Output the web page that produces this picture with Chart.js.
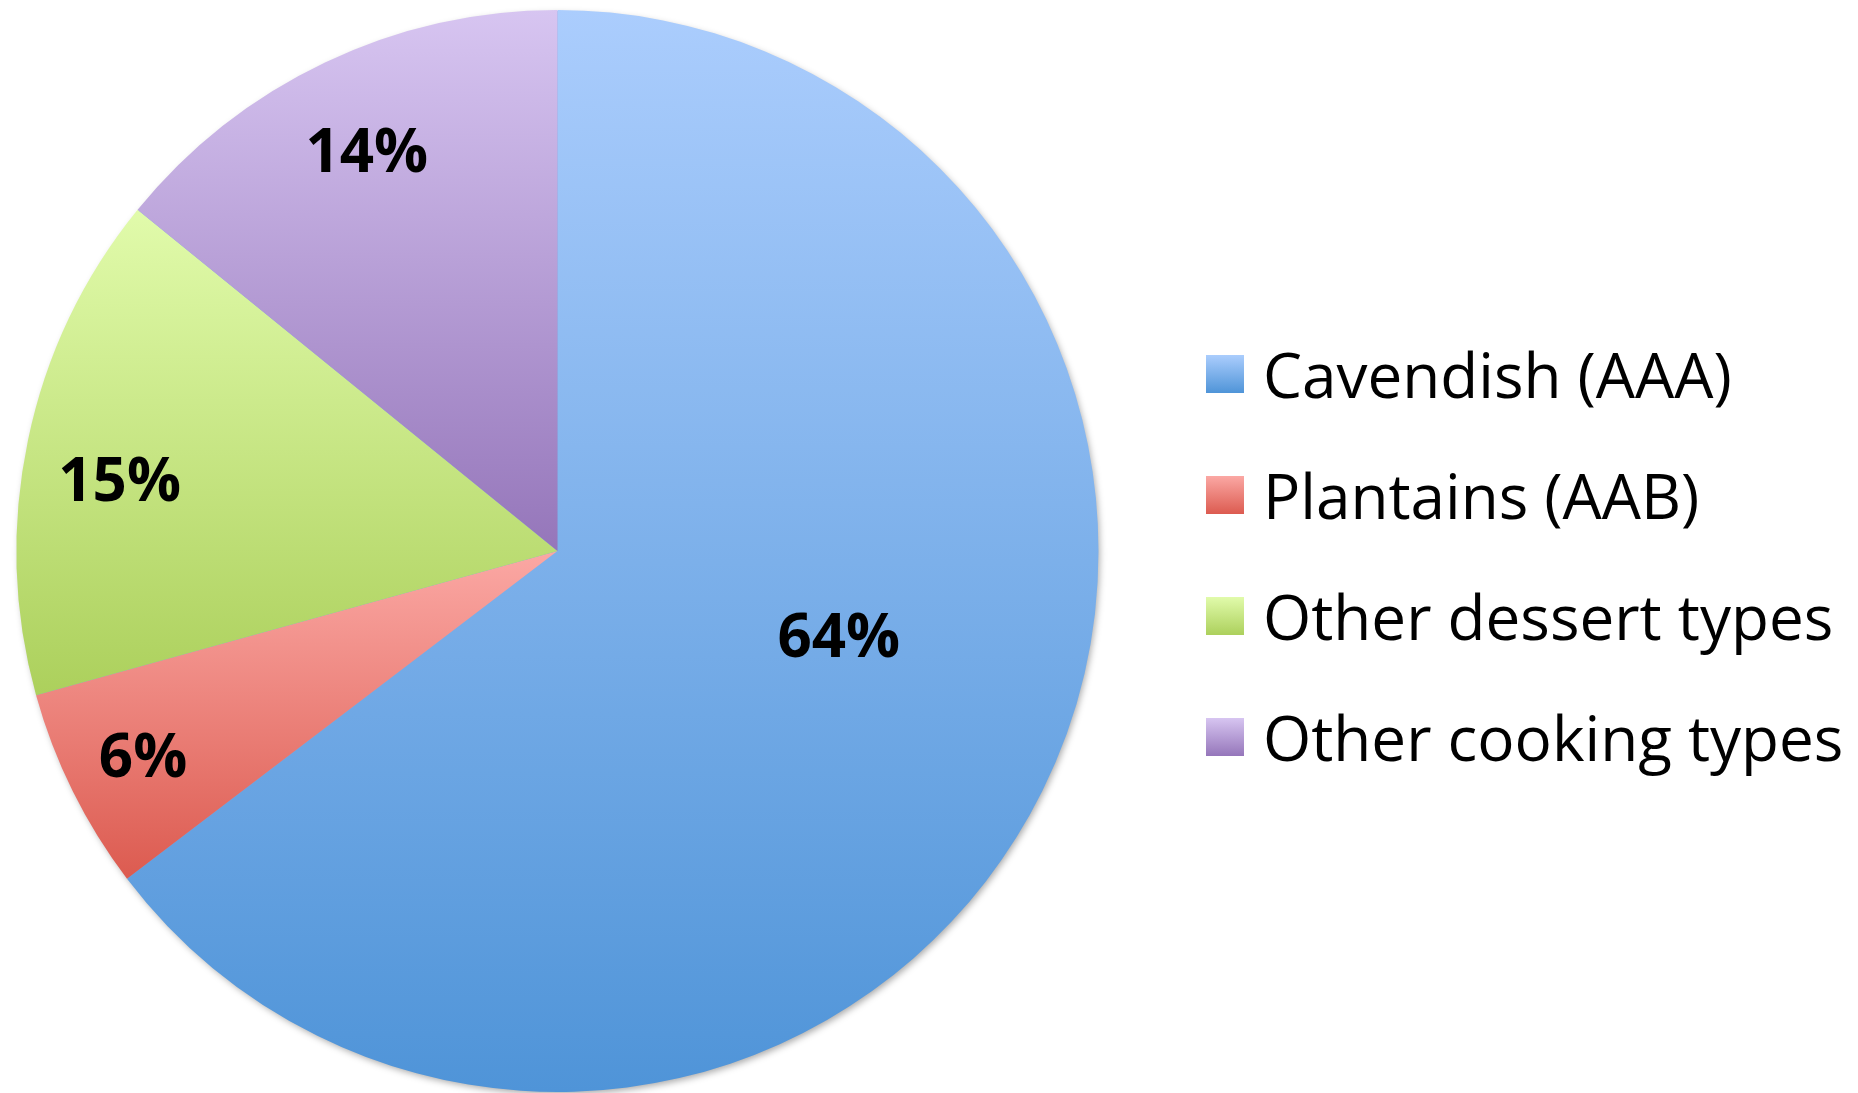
<!DOCTYPE html>
<html>
<head>
<meta charset="utf-8">
<script src="https://cdn.jsdelivr.net/npm/chart.js@4"></script>
<style>
body { margin: 0; background: #fff; }
#wrap { position: relative; width: 1858px; height: 1093px; }
#leyenda { position: absolute; left: 1206px; top: 0; font-family: "Open Sans", sans-serif; font-size: 62px; color: #000; }
.item { position: absolute; left: 0; height: 90px; line-height: 90px; display: flex; align-items: center; white-space: nowrap; }
.cuadro { width: 38px; height: 38px; margin-right: 19px; flex: none; }
</style>
</head>
<body>
<div id="wrap">
  <canvas id="tartaChart" width="1858" height="1093"></canvas>
  <div id="leyenda"></div>
</div>
<script>
// Datos del gráfico
const categorias = ['Cavendish (AAA)', 'Plantains (AAB)', 'Other dessert types', 'Other cooking types'];
const porcentajes = [64, 6, 15, 14];

// Colores del degradado (arriba / abajo) de cada porción
const colorArriba = ['#abcdfd', '#fba8a4', '#e1fbab', '#d7c5f1'];
const colorAbajo = ['#4f94d8', '#dc5b50', '#acd05c', '#9576ba'];

// Posición de las etiquetas dentro de cada porción
const radioEtiqueta = [0.543, 0.855, 0.82, 0.82];
const ajusteAngulo = [-9.6, 0, -2.6, 0];

// Degradado vertical según la caja de cada porción
function degradado(context) {
    const chart = context.chart;
    const area = chart.chartArea;
    const i = context.dataIndex;
    if (!area) return colorArriba[i];
    const cx = (area.left + area.right) / 2;
    const cy = (area.top + area.bottom) / 2;
    const r = Math.min(area.right - area.left, area.bottom - area.top) / 2;
    const total = porcentajes.reduce((a, b) => a + b, 0);
    let a0 = -Math.PI / 2;
    for (let k = 0; k < i; k++) a0 += porcentajes[k] / total * 2 * Math.PI;
    const a1 = a0 + porcentajes[i] / total * 2 * Math.PI;
    const ys = [cy, cy + r * Math.sin(a0), cy + r * Math.sin(a1)];
    [-Math.PI / 2, Math.PI / 2, 3 * Math.PI / 2].forEach(a => {
        if (a >= a0 - 1e-6 && a <= a1 + 1e-6) ys.push(cy + r * Math.sin(a));
    });
    const g = chart.ctx.createLinearGradient(0, Math.min(...ys), 0, Math.max(...ys));
    g.addColorStop(0, colorArriba[i]);
    g.addColorStop(1, colorAbajo[i]);
    return g;
}

// Sombra suave bajo la tarta
const sombraPlugin = {
    id: 'sombra',
    beforeDatasetsDraw(chart) {
        const arc = chart.getDatasetMeta(0).data[0];
        if (!arc) return;
        const p = arc.getProps(['x', 'y', 'outerRadius'], true);
        const ctx = chart.ctx;
        ctx.save();
        ctx.shadowColor = 'rgba(0,0,0,0.35)';
        ctx.shadowBlur = 7;
        ctx.shadowOffsetX = 2;
        ctx.shadowOffsetY = 3;
        ctx.fillStyle = '#7aaae6';
        ctx.beginPath();
        ctx.arc(p.x, p.y, p.outerRadius - 1, 0, 2 * Math.PI);
        ctx.fill();
        ctx.restore();
    }
};

// Etiquetas de porcentaje
const etiquetasPlugin = {
    id: 'etiquetas',
    afterDatasetsDraw(chart) {
        const ctx = chart.ctx;
        const meta = chart.getDatasetMeta(0);
        ctx.save();
        ctx.font = 'bold 60px "Open Sans"';
        ctx.fillStyle = '#000';
        ctx.textAlign = 'center';
        ctx.textBaseline = 'middle';
        meta.data.forEach((arc, i) => {
            const p = arc.getProps(['x', 'y', 'startAngle', 'endAngle', 'outerRadius'], true);
            const mid = (p.startAngle + p.endAngle) / 2 + ajusteAngulo[i] * Math.PI / 180;
            const r = p.outerRadius * radioEtiqueta[i];
            ctx.fillText(porcentajes[i] + '%', p.x + Math.cos(mid) * r, p.y + Math.sin(mid) * r + 4);
        });
        ctx.restore();
    }
};

const ctx = document.getElementById('tartaChart').getContext('2d');
const tartaChart = new Chart(ctx, {
    type: 'pie',
    data: {
        labels: categorias,
        datasets: [{
            data: porcentajes,
            backgroundColor: degradado,
            borderWidth: 0
        }]
    },
    options: {
        responsive: false,
        animation: false,
        layout: { padding: { top: 10, bottom: 1, left: 0, right: 743 } },
        plugins: {
            legend: { display: false },
            tooltip: { enabled: false }
        }
    },
    plugins: [sombraPlugin, etiquetasPlugin]
});

// Leyenda en HTML
const filas = [374, 495, 616, 737];
const leyenda = document.getElementById('leyenda');
categorias.forEach((nombre, i) => {
    const item = document.createElement('div');
    item.className = 'item';
    item.style.top = (filas[i] - 45) + 'px';
    const cuadro = document.createElement('span');
    cuadro.className = 'cuadro';
    cuadro.style.background = 'linear-gradient(' + colorArriba[i] + ', ' + colorAbajo[i] + ')';
    const texto = document.createElement('span');
    texto.textContent = nombre;
    item.appendChild(cuadro);
    item.appendChild(texto);
    leyenda.appendChild(item);
});
</script>
</body>
</html>
